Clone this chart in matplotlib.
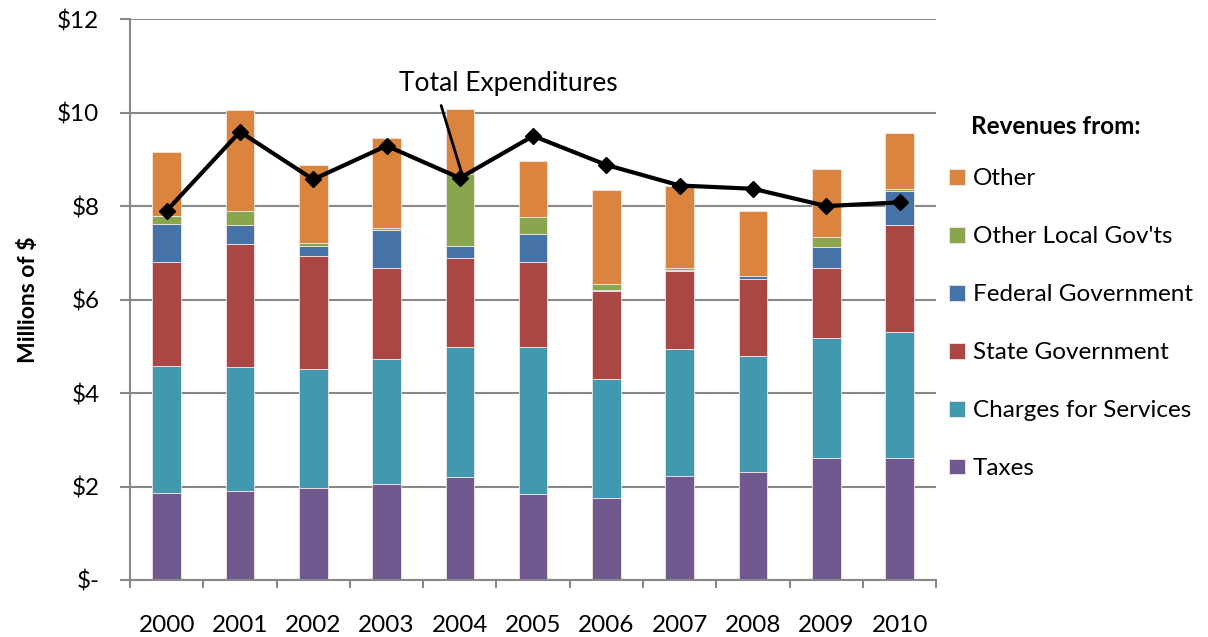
import matplotlib
matplotlib.use("Agg")
import matplotlib.pyplot as plt
import numpy as np

plt.rcParams['font.family'] = ['Lato', 'DejaVu Sans']

# revenue components, millions of $
years = ["2000", "2001", "2002", "2003", "2004", "2005",
         "2006", "2007", "2008", "2009", "2010"]
taxes = [1.86, 1.91, 1.96, 2.05, 2.21, 1.83, 1.75, 2.23, 2.32, 2.62, 2.62]
charges = [2.71, 2.64, 2.56, 2.67, 2.78, 3.15, 2.54, 2.71, 2.48, 2.56, 2.69]
state = [2.23, 2.63, 2.41, 1.96, 1.89, 1.83, 1.89, 1.67, 1.63, 1.49, 2.29]
federal = [0.81, 0.42, 0.22, 0.80, 0.27, 0.59, 0.02, 0.03, 0.07, 0.46, 0.73]
other_local = [0.17, 0.29, 0.05, 0.05, 1.53, 0.36, 0.13, 0.03, 0.01, 0.21, 0.04]
other = [1.37, 2.16, 1.67, 1.92, 1.40, 1.21, 2.02, 1.77, 1.39, 1.45, 1.20]
total_exp = [7.90, 9.59, 8.57, 9.29, 8.60, 9.50, 8.88, 8.44, 8.37, 8.00, 8.08]

series = [("Taxes", taxes, "#71588F"),
          ("Charges for Services", charges, "#4198AF"),
          ("State Government", state, "#AA4643"),
          ("Federal Government", federal, "#4572A7"),
          ("Other Local Gov'ts", other_local, "#89A54E"),
          ("Other", other, "#DB843D")]

FS = 17.5

fig = plt.figure(figsize=(12.08, 6.37), dpi=100)
ax = fig.add_axes([0.1076, 0.0895, 0.6675, 0.8805])

x = np.arange(len(years))
bottom = np.zeros(len(years))
handles = []
for name, vals, col in series:
    b = ax.bar(x, vals, 0.39, bottom=bottom, color=col, edgecolor="#f2e6e6",
               linewidth=0.6, label=name, zorder=2)
    handles.append(b)
    bottom += np.array(vals)

ax.plot(x, total_exp, color="black", lw=3, marker="D", ms=8, zorder=3)

ax.annotate("Total Expenditures", xy=(4.02, 8.73), xytext=(4.66, 10.62),
            ha="center", va="center", fontsize=19,
            arrowprops=dict(arrowstyle="-", color="black", lw=2,
                            relpos=(0.18, 0.0), shrinkA=5, shrinkB=0))

ax.set_xlim(-0.5, 10.5)
ax.set_ylim(0, 12)
ax.set_yticks(np.arange(0, 13, 2))
ax.set_yticklabels(["$-", "$2", "$4", "$6", "$8", "$10", "$12"], fontsize=FS)
ax.set_xticks(x)
ax.set_xticklabels(years, fontsize=FS)
ax.set_xticks(np.arange(-0.5, 11, 1), minor=True)
ax.tick_params(axis="x", which="major", length=0, pad=25)
ax.tick_params(axis="x", which="minor", length=6, color="#888888", width=1.5)
ax.tick_params(axis="y", length=7, color="#888888", width=1.5, pad=15)
ax.yaxis.grid(True, color="#888888", lw=1.5, zorder=0)
ax.set_axisbelow(True)
for s in ["top", "right"]:
    ax.spines[s].set_visible(False)
for s in ["left", "bottom"]:
    ax.spines[s].set_color("#888888")
    ax.spines[s].set_linewidth(1.5)

ax.set_ylabel("Millions of $", fontsize=16.5, fontweight="bold", labelpad=13)

fig.text(971 / 1208, 1 - 127 / 637, "Revenues from:", fontsize=FS,
         fontweight="bold", ha="left", va="center")
ax.legend(handles[::-1], [s[0] for s in series][::-1],
          loc="upper left", bbox_to_anchor=(0.786, 0.7356),
          bbox_transform=fig.transFigure, frameon=False, fontsize=FS,
          handlelength=0.62, handleheight=0.62, handletextpad=0.35,
          labelspacing=1.52, borderpad=0, borderaxespad=0)

fig.savefig("out.png", dpi=100)
